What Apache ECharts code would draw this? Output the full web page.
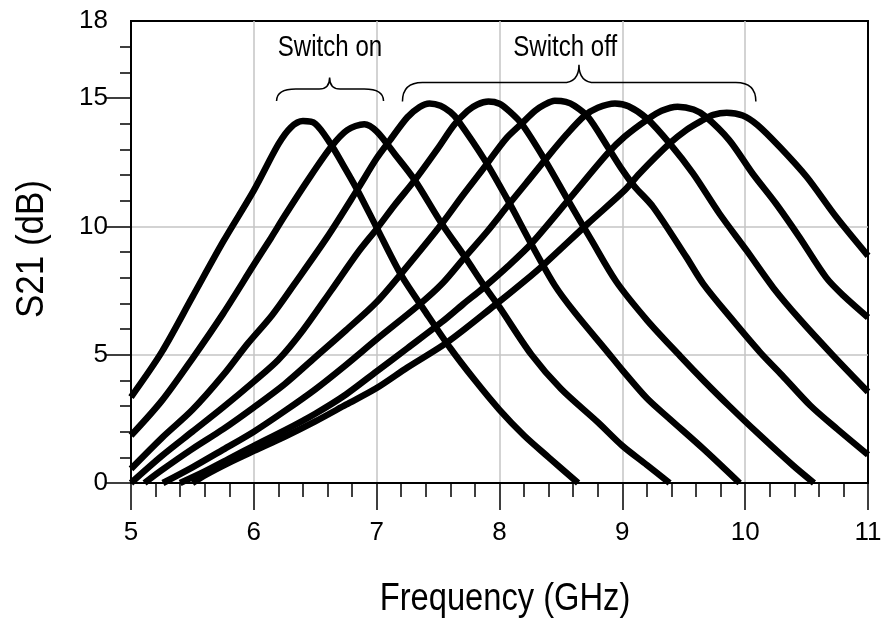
<!DOCTYPE html>
<html>
<head>
<meta charset="utf-8">
<script src="https://cdn.jsdelivr.net/npm/echarts@6/dist/echarts.min.js"></script>
<style>
  html, body { margin: 0; padding: 0; background: #fff; }
  #chart { width: 885px; height: 626px; }
</style>
</head>
<body>
<div id="chart"></div>
<script>
// Measured S21 of the tunable filter: [frequency (GHz), gain (dB)] per bias state.
// Two "switch on" states followed by six "switch off" states.
const stateOn1 = [[5.0,3.35],[5.25,5.1],[5.5,7.25],[5.75,9.4],[6.0,11.4],[6.2,13.2],[6.3,13.85],[6.4,14.1],[6.5,14.0],[6.62,13.25],[6.75,12.2],[6.85,11.35],[7.0,9.95],[7.2,8.1],[7.4,6.65],[7.6,5.25],[7.8,4.0],[8.0,2.85],[8.2,1.85],[8.4,1.0],[8.64,0]];
const stateOn2 = [[5.0,1.85],[5.25,3.2],[5.5,4.85],[5.75,6.6],[6.0,8.5],[6.14,9.55],[6.25,10.4],[6.44,11.8],[6.63,13.1],[6.76,13.75],[6.9,13.98],[7.0,13.7],[7.15,12.8],[7.31,11.8],[7.53,10.1],[7.72,8.8],[7.88,7.65],[8.0,6.85],[8.26,5.0],[8.5,3.67],[8.8,2.37],[9.0,1.45],[9.2,0.7],[9.385,0]];
const stateOff1 = [[5.0,0.55],[5.25,1.75],[5.5,2.85],[5.75,4.2],[5.95,5.43],[6.15,6.55],[6.33,7.75],[6.6,9.6],[6.84,11.41],[7.0,12.65],[7.1,13.3],[7.25,14.25],[7.35,14.65],[7.43,14.79],[7.52,14.7],[7.6,14.45],[7.66,14.14],[7.88,12.58],[8.07,11.0],[8.26,9.3],[8.45,7.7],[8.61,6.66],[8.88,5.1],[9.0,4.4],[9.2,3.3],[9.385,2.5],[9.66,1.33],[9.955,0]];
const stateOff2 = [[5.0,0],[5.25,1.05],[5.5,2.0],[5.75,2.95],[6.0,3.95],[6.2,4.8],[6.4,5.95],[6.63,7.5],[6.85,9.0],[7.0,9.9],[7.15,10.85],[7.31,11.8],[7.5,13.05],[7.63,13.95],[7.74,14.5],[7.82,14.75],[7.91,14.86],[8.0,14.78],[8.07,14.53],[8.18,14.0],[8.37,12.58],[8.56,11.0],[8.75,9.45],[8.95,7.85],[9.2,6.35],[9.47,4.95],[9.67,3.95],[9.87,3.0],[10.1,1.95],[10.39,0.68],[10.56,0]];
const stateOff3 = [[5.11,0],[5.25,0.5],[5.5,1.33],[5.75,2.1],[6.0,2.95],[6.25,3.85],[6.5,4.9],[6.75,5.95],[7.0,7.05],[7.25,8.45],[7.53,10.1],[7.7,11.2],[7.88,12.32],[8.05,13.4],[8.18,14.0],[8.29,14.5],[8.37,14.75],[8.45,14.89],[8.54,14.85],[8.61,14.7],[8.72,14.27],[8.88,13.1],[9.0,12.2],[9.1,11.55],[9.25,10.76],[9.52,8.81],[9.66,7.75],[9.88,6.45],[10.12,5.1],[10.3,4.2],[10.53,3.02],[10.75,2.1],[11.0,1.1]];
const stateOff4 = [[5.26,0],[5.5,0.61],[5.75,1.3],[6.0,2.0],[6.25,2.8],[6.5,3.65],[6.75,4.6],[7.0,5.6],[7.34,6.92],[7.53,7.75],[7.72,8.81],[7.9,9.8],[8.07,10.82],[8.22,11.7],[8.37,12.58],[8.55,13.6],[8.69,14.3],[8.8,14.62],[8.94,14.79],[9.05,14.68],[9.2,14.2],[9.385,13.23],[9.575,12.06],[9.79,10.5],[10.01,9.07],[10.23,7.6],[10.45,6.35],[10.715,4.97],[11.0,3.55]];
const stateOff5 = [[5.4,0],[5.6,0.45],[5.8,0.95],[6.0,1.45],[6.25,2.05],[6.5,2.7],[6.75,3.45],[7.0,4.35],[7.25,5.25],[7.53,6.27],[7.7,6.95],[7.88,7.65],[8.07,8.45],[8.26,9.33],[8.56,11.02],[8.88,12.84],[9.02,13.5],[9.2,14.15],[9.32,14.5],[9.45,14.66],[9.58,14.55],[9.68,14.27],[9.87,13.36],[10.06,12.06],[10.25,10.89],[10.44,9.59],[10.66,8.0],[10.8,7.3],[11.0,6.45]];
const stateOff6 = [[5.5,0],[5.6,0.3],[5.8,0.8],[6.0,1.25],[6.25,1.8],[6.5,2.4],[6.75,3.05],[7.0,3.7],[7.25,4.5],[7.58,5.5],[7.96,6.92],[8.2,7.85],[8.37,8.55],[8.72,10.11],[9.02,11.41],[9.14,12.06],[9.385,13.23],[9.52,13.75],[9.64,14.1],[9.74,14.34],[9.85,14.43],[9.98,14.32],[10.1,13.95],[10.28,13.1],[10.5,11.93],[10.74,10.37],[11.0,8.85]];

const stateNames = ['on 1', 'on 2', 'off 1', 'off 2', 'off 3', 'off 4', 'off 5', 'off 6'];
const stateCurves = [stateOn1, stateOn2, stateOff1, stateOff2, stateOff3, stateOff4, stateOff5, stateOff6];

// Axis ticks
const freqTicks = [5, 6, 7, 8, 9, 10, 11];
const gainTickLabels = [0, 5, 10, 15, 18];
const gainMajorTicks = [0, 5, 10, 15];

// Axis titles
const freqTitle = 'Frequency (GHz)';
const gainTitle = 'S21 (dB)';

// Group brackets (data units): label, span, bracket line level, end level, cusp level
const groupLabels = ['Switch on', 'Switch off'];
const groupFrom = [6.185, 7.21];
const groupTo = [7.056, 10.087];
const groupCusp = [6.617, 8.647];
const groupLine = [15.35, 15.6];
const groupEnd = [14.88, 14.86];
const groupTop = [15.8, 16.3];
const groupLabelX = [6.62, 8.535];
const groupLabelY = [16.95, 16.95];

const FONT = '"Liberation Sans", Arial, sans-serif';

const chart = echarts.init(document.getElementById('chart'), null, { renderer: 'canvas' });

const curveSeries = stateCurves.map((pts, i) => ({
  name: stateNames[i],
  type: 'line',
  data: pts,
  showSymbol: false,
  symbol: 'none',
  smooth: 0.3,
  clip: true,
  lineStyle: { color: '#000', width: 6.5, cap: 'butt', join: 'round' },
  z: 3
}));

// Curly brackets grouping the switch states, with their captions (condensed lettering)
const bracketSeries = {
  type: 'custom',
  coordinateSystem: 'cartesian2d',
  silent: true,
  clip: false,
  z: 4,
  data: groupLabels.map((_, i) => [groupCusp[i], groupLine[i]]),
  renderItem: function (params, api) {
    const i = params.dataIndex;
    const pL = api.coord([groupFrom[i], groupLine[i]]);
    const pR = api.coord([groupTo[i], groupLine[i]]);
    const pE = api.coord([groupFrom[i], groupEnd[i]]);
    const pC = api.coord([groupCusp[i], groupTop[i]]);
    const yL = pL[1], yE = pE[1], yC = pC[1], xC = pC[0];
    const xL = pL[0], xR = pR[0];
    const r = Math.min(20, (yE - yL) * 1.6);
    const rc = (yL - yC) * 0.9;
    const d = [
      'M', xL, yE,
      'Q', xL, yL, xL + r, yL,
      'L', xC - rc, yL,
      'Q', xC, yL, xC, yC,
      'Q', xC, yL, xC + rc, yL,
      'L', xR - r, yL,
      'Q', xR, yL, xR, yE
    ].join(' ');
    const t = api.coord([groupLabelX[i], groupLabelY[i]]);
    return {
      type: 'group',
      children: [
        { type: 'path', shape: { pathData: d }, style: { stroke: '#000', fill: null, lineWidth: 1.5 } },
        {
          type: 'text', x: t[0], y: t[1], scaleX: 0.83,
          style: {
            text: groupLabels[i], fill: '#000', fontSize: 29, fontFamily: FONT,
            align: 'center', verticalAlign: 'middle'
          }
        }
      ]
    };
  }
};

chart.setOption({
  animation: false,
  backgroundColor: '#fff',
  grid: {
    left: 131, top: 21, width: 737, height: 462,
    show: true, borderColor: '#000', borderWidth: 2, backgroundColor: 'transparent'
  },
  graphic: [
    {
      type: 'text', x: 505, y: 600, scaleX: 0.86, silent: true,
      style: { text: freqTitle, fill: '#000', fontSize: 38, fontFamily: FONT, align: 'center', verticalAlign: 'middle' }
    },
    {
      type: 'text', x: 33, y: 249, rotation: Math.PI / 2, scaleX: 0.92, silent: true,
      style: { text: gainTitle, fill: '#000', fontSize: 38, fontFamily: FONT, align: 'center', verticalAlign: 'middle' }
    }
  ],
  xAxis: {
    type: 'value',
    min: freqTicks[0], max: freqTicks[freqTicks.length - 1], interval: 1,
    axisLine: { show: true, onZero: false, lineStyle: { color: '#000', width: 2 } },
    axisTick: { show: true, length: 27, lineStyle: { color: '#000', width: 1.5 } },
    minorTick: { show: true, splitNumber: 5, length: 14, lineStyle: { color: '#000', width: 1.5 } },
    axisLabel: { color: '#000', fontSize: 26, fontFamily: FONT, margin: 37 },
    splitLine: { show: true, showMinLine: false, showMaxLine: false, lineStyle: { color: '#c4c4c4', width: 1.5 } }
  },
  yAxis: {
    type: 'value',
    min: 0, max: 18, interval: 5,
    axisLine: { show: true, onZero: false, lineStyle: { color: '#000', width: 2 } },
    axisTick: { show: true, length: 26, customValues: gainMajorTicks, lineStyle: { color: '#000', width: 1.5 } },
    minorTick: { show: true, splitNumber: 5, length: 11, lineStyle: { color: '#000', width: 1.5 } },
    axisLabel: { color: '#000', fontSize: 26, fontFamily: FONT, margin: 23, customValues: gainTickLabels },
    splitLine: { show: true, showMinLine: false, showMaxLine: false, lineStyle: { color: '#c4c4c4', width: 1.5 } }
  },
  series: curveSeries.concat([bracketSeries])
});
</script>
</body>
</html>
